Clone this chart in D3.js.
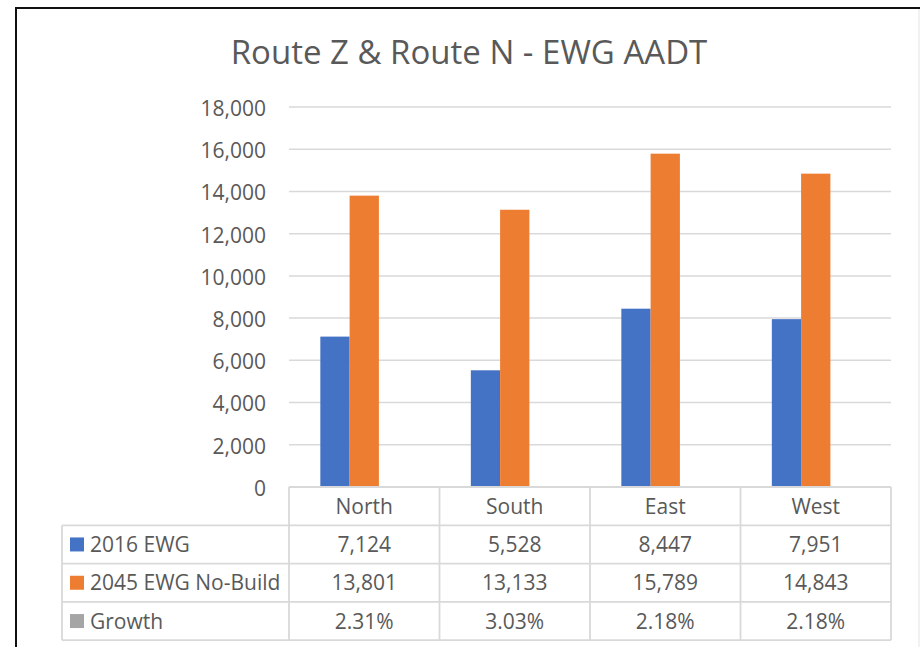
<!DOCTYPE html>
<html>
<head>
<meta charset="utf-8">
<script src="https://cdn.jsdelivr.net/npm/d3@7"></script>
<style>
  html, body { margin: 0; padding: 0; background: #fff; }
  svg { display: block; }
</style>
</head>
<body>
<div id="chart"></div>
<script>
// Route Z & Route N — EWG AADT, clustered columns with an Excel-style data table

const categories = ["North", "South", "East", "West"];
const seriesNames = ["2016 EWG", "2045 EWG No-Build", "Growth"];
const ewg2016 = [7124, 5528, 8447, 7951];
const ewg2045 = [13801, 13133, 15789, 14843];
const growth = [0.0231, 0.0303, 0.0218, 0.0218];
const yTicks = [0, 2000, 4000, 6000, 8000, 10000, 12000, 14000, 16000, 18000];

const COLORS = ["#4472C4", "#ED7D31", "#A5A5A5"];
const TEXT = "#595959";
const GRID = "#d9d9d9";
const FONT = "'Open Sans', sans-serif";

const W = 920, H = 647;
const plot = { left: 289, right: 891, top: 107, bottom: 487 };
const rowH = 38.3;

const svg = d3.select("#chart").append("svg")
  .attr("width", W).attr("height", H)
  .style("font-family", FONT);

// outer frame (black top/left, faint right edge)
svg.append("line").attr("x1", 15).attr("x2", W).attr("y1", 8).attr("y2", 8)
  .attr("stroke", "#111").attr("stroke-width", 2);
svg.append("line").attr("x1", 16).attr("x2", 16).attr("y1", 7).attr("y2", H)
  .attr("stroke", "#111").attr("stroke-width", 2);
svg.append("line").attr("x1", 919).attr("x2", 919).attr("y1", 9).attr("y2", H)
  .attr("stroke", "#e4e4e4").attr("stroke-width", 1);

// title
svg.append("text")
  .attr("x", 469).attr("y", 64)
  .attr("text-anchor", "middle")
  .attr("font-size", 33).attr("fill", TEXT)
  .text("Route Z & Route N - EWG AADT");

const x0 = d3.scaleBand().domain(categories).range([plot.left, plot.right]).padding(0);
const x1 = d3.scaleBand().domain(seriesNames).range([0, x0.bandwidth()])
  .paddingInner(0).paddingOuter(1.07);
const y = d3.scaleLinear().domain([0, 18000]).range([plot.bottom, plot.top]);

// gridlines
svg.append("g")
  .selectAll("line")
  .data(yTicks.filter(d => d > 0))
  .join("line")
  .attr("x1", plot.left).attr("x2", plot.right)
  .attr("y1", d => y(d)).attr("y2", d => y(d))
  .attr("stroke", GRID).attr("stroke-width", 1.5);

// y axis labels
svg.append("g")
  .attr("transform", `translate(${plot.left},0)`)
  .call(d3.axisLeft(y).tickValues(yTicks).tickSize(0).tickPadding(23).tickFormat(d3.format(",")))
  .call(g => g.select(".domain").remove())
  .call(g => g.selectAll("text")
    .attr("fill", TEXT).attr("font-size", 21).attr("font-family", FONT).attr("dy", "0.4em"));

// bars
const rows = [ewg2016, ewg2045, growth];
const barData = [];
categories.forEach((c, i) => {
  seriesNames.forEach((s, j) => barData.push({ cat: c, series: s, value: rows[j][i], idx: j }));
});

svg.append("g")
  .selectAll("rect")
  .data(barData)
  .join("rect")
  .attr("x", d => x0(d.cat) + x1(d.series))
  .attr("width", x1.bandwidth())
  .attr("y", d => y(d.value))
  .attr("height", d => y(0) - y(d.value))
  .attr("fill", d => COLORS[d.idx]);

// data table
const table = svg.append("g");
const tableLeft = 62;
const fmtN = d3.format(",");
const fmtP = d3.format(".2%");

const line = (x1_, y1_, x2_, y2_) => table.append("line")
  .attr("x1", x1_).attr("y1", y1_).attr("x2", x2_).attr("y2", y2_)
  .attr("stroke", GRID).attr("stroke-width", 1.8);

// horizontal rules
line(plot.left, plot.bottom, plot.right, plot.bottom);
for (let r = 1; r <= 4; r++) {
  line(tableLeft, plot.bottom + r * rowH, plot.right, plot.bottom + r * rowH);
}
// vertical rules
line(tableLeft, plot.bottom + rowH, tableLeft, plot.bottom + 4 * rowH);
categories.forEach(c => line(x0(c), plot.bottom, x0(c), plot.bottom + 4 * rowH));
line(plot.right, plot.bottom, plot.right, plot.bottom + 4 * rowH);

// header row
table.selectAll(".hdr")
  .data(categories)
  .join("text")
  .attr("x", d => x0(d) + x0.bandwidth() / 2)
  .attr("y", plot.bottom + rowH / 2)
  .attr("dy", "0.36em")
  .attr("text-anchor", "middle")
  .attr("font-size", 21).attr("fill", TEXT)
  .text(d => d);

// series rows
const rowFmt = [fmtN, fmtN, fmtP];
seriesNames.forEach((s, j) => {
  const cy = plot.bottom + (j + 1.5) * rowH;
  table.append("rect")
    .attr("x", 70).attr("y", cy - 7).attr("width", 14).attr("height", 14)
    .attr("fill", COLORS[j]);
  table.append("text")
    .attr("x", 90).attr("y", cy).attr("dy", "0.36em")
    .attr("font-size", 21).attr("fill", TEXT)
    .text(s);
  table.selectAll(".v" + j)
    .data(categories)
    .join("text")
    .attr("x", d => x0(d) + x0.bandwidth() / 2)
    .attr("y", cy).attr("dy", "0.36em")
    .attr("text-anchor", "middle")
    .attr("font-size", 21).attr("fill", TEXT)
    .text((d, i) => rowFmt[j](rows[j][i]));
});
</script>
</body>
</html>
